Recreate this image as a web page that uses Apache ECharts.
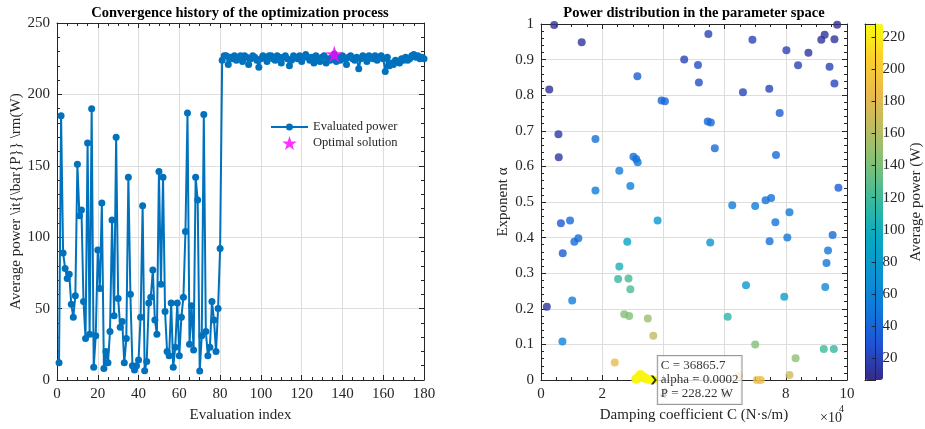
<!DOCTYPE html>
<html>
<head>
<meta charset="utf-8">
<script src="https://cdn.jsdelivr.net/npm/echarts@6/dist/echarts.min.js"></script>
<style>
html, body { margin: 0; padding: 0; background: #fff; }
#chart { width: 925px; height: 429px; }
</style>
</head>
<body>
<div id="chart"></div>
<script>
// evaluated average power per evaluation (index 1..180)
const powerHistory = [
  12, 185, 89, 78, 71, 74, 53, 44, 59, 151,
  115, 119, 55, 29, 166, 32, 190, 9, 31, 91,
  64, 124, 8, 20, 12, 34, 112, 45, 170, 57,
  37, 41, 12, 29, 142, 60, 10, 7, 10, 14,
  44, 122, 6.5, 13, 54, 58, 77, 42, 32, 146,
  67, 142, 48, 20, 17, 54, 9, 23, 54, 17,
  44, 58, 104, 187, 25, 52, 21, 142, 126, 6.3,
  31, 186, 34, 17, 23, 55, 42, 20, 50, 92,
  224, 227, 227, 221, 226, 225, 227, 224, 226, 227,
  223, 227, 226, 221, 225, 227, 226, 224, 219, 225,
  227, 226, 223, 227, 227, 225, 224, 227, 226, 222,
  226, 227, 225, 220, 224, 227, 226, 225, 227, 223,
  226, 228, 226, 224, 226, 222, 227, 225, 223, 226,
  227, 222, 225, 224, 226, 228.22, 223, 226, 224, 227,
  225, 221, 226, 227, 225, 224, 226, 218, 225, 227,
  226, 223, 227, 226, 225, 227, 224, 226, 227, 225,
  216, 226, 220, 222, 221, 224, 223, 222, 225, 224,
  226, 224, 225, 227, 228, 226, 227, 225, 226, 225
];
const optIndex = 136;
const optPower = 228.22;
const bestC = 36865.7;
const bestAlpha = 0.0002;

// sampled parameters away from the optimum (C in 1e4 N*s/m)
const sampleC = [
  0.43, 1.33, 0.27, 0.57, 0.58, 1.78, 3.15, 3.94, 4.05, 4.68,
  5.13, 5.16, 5.47, 5.45, 5.55, 2.56, 1.78, 2.92, 3.02, 3.11,
  3.16, 9.68, 6.91, 9.27, 9.16, 9.59, 8.02, 8.74, 8.40, 9.43,
  9.59, 6.60, 7.46, 7.80, 5.68, 7.68, 9.72, 6.25, 7.00, 7.34,
  7.52, 8.12, 7.66, 9.53, 5.53, 7.47, 8.05, 9.38, 9.33, 6.70,
  9.29, 7.95, 6.10, 7.00, 9.24, 9.57, 8.32, 8.12, 6.46, 7.05,
  7.18, 0.19, 0.65, 0.95, 0.71, 1.09, 1.22, 1.02, 0.70, 3.81,
  2.82, 2.56, 2.52, 2.86, 2.92, 2.72, 2.88, 3.49, 3.67, 2.41
];
const sampleAlpha = [
  0.997, 0.949, 0.816, 0.690, 0.626, 0.677, 0.853, 0.785, 0.783, 0.900,
  0.885, 0.836, 0.972, 0.726, 0.723, 0.588, 0.532, 0.545, 0.627, 0.621,
  0.612, 0.998, 0.956, 0.970, 0.956, 0.957, 0.926, 0.919, 0.884, 0.880,
  0.833, 0.808, 0.818, 0.750, 0.651, 0.632, 0.540, 0.491, 0.489, 0.505,
  0.511, 0.471, 0.443, 0.407, 0.386, 0.390, 0.400, 0.364, 0.329, 0.266,
  0.261, 0.234, 0.178, 0.100, 0.087, 0.087, 0.061, 0.014, 0.012, 0.000,
  0.000, 0.206, 0.440, 0.448, 0.356, 0.388, 0.398, 0.223, 0.108, 0.448,
  0.388, 0.319, 0.284, 0.285, 0.255, 0.185, 0.180, 0.173, 0.124, 0.049
];
const samplePower = [
  9, 12, 10, 15, 14, 45, 35, 40, 41, 20,
  25, 25, 20, 40, 41, 55, 54, 57, 44, 44,
  50, 8, 20, 12, 12, 12, 20, 13, 20, 20,
  21, 20, 21, 33, 42, 42, 33, 53, 53, 45,
  45, 50, 48, 42, 74, 45, 50, 50, 48, 78,
  64, 85, 112, 142, 119, 115, 146, 170, 187, 190,
  186, 12, 32, 42, 34, 44, 44, 55, 59, 77,
  91, 104, 115, 122, 124, 142, 143, 151, 166, 185
];

// evaluations gathered round the optimum
const clusterC = [
  3.08, 3.10, 3.12, 3.14, 3.16, 3.18, 3.20, 3.22, 3.24, 3.25,
  3.26, 3.28, 3.30, 3.32, 3.34, 3.36, 3.38, 3.40, 3.42, 3.44,
  3.46, 3.48, 3.50, 3.52, 3.54, 3.56, 3.58, 3.60, 3.62, 3.64, 3.66
];
const clusterAlpha = [
  0.002, 0.004, 0.001, 0.006, 0.003, 0.009, 0.012, 0.014, 0.016, 0.017,
  0.015, 0.013, 0.010, 0.008, 0.011, 0.006, 0.004, 0.007, 0.003, 0.005,
  0.002, 0.004, 0.001, 0.003, 0.002, 0.001, 0.003, 0.001, 0.002, 0.001, 0.001
];
const clusterPower = [
  224, 225, 223, 226, 227, 224, 226, 227, 225, 226,
  227, 224, 226, 227, 225, 226, 223, 227, 226, 225,
  227, 226, 224, 227, 226, 225, 227, 226, 227, 226, 227
];

const colorbarTicks = [20, 40, 60, 80, 100, 120, 140, 160, 180, 200, 220];
const powerMin = 6.3;
const powerMax = 228.22;
const parula = ['#352a87', '#2053d4', '#1079da', '#0c93d2', '#07a9c2', '#38b99e',
  '#7cbf7b', '#b7bd64', '#e9b94e', '#fcce2e', '#f9fb0e'];

const font = 'Liberation Serif';
const ink = '#262626';
const gridColor = '#dedede';
const starPath = 'path://M50,0 L61.8,35.1 L97.6,35.1 L68.8,56.7 L79.4,91 L50,70 L20.6,91 L31.2,56.7 L2.4,35.1 L38.2,35.1 Z';
const chevronPath = 'path://M0,0 L4,0 L10,5 L4,10 L0,10 L6,5 Z';
// legend icon: line with a small circle marker, padded to the 37x14 legend box
const lineMarkerIcon = 'path://M0,0 L0.01,0 L0,0.01 Z M37,14 L36.99,14 L37,13.99 Z M0,6.1 L37,6.1 L37,7.9 L0,7.9 Z M22,7 A3.5,3.5 0 1 1 22,6.99 Z';

const chart = echarts.init(document.getElementById('chart'));

function axis(o) {
  return Object.assign({
    type: 'value',
    axisLine: { show: true, onZero: false, lineStyle: { color: ink, width: 1 } },
    axisTick: { show: true, inside: true, length: 5, lineStyle: { color: ink } },
    minorTick: { show: true, length: 3, lineStyle: { color: ink } },
    axisLabel: { color: ink, fontFamily: font, fontSize: 15, margin: 7 },
    splitLine: { show: true, lineStyle: { color: gridColor } },
    nameTextStyle: { color: ink, fontFamily: font, fontSize: 15 }
  }, o);
}
const noLabel = { show: false };
const noSplit = { show: false };
const minor = n => ({ show: true, splitNumber: n, length: 3, lineStyle: { color: ink } });
// plain frame line for the colour bar box
const frame = (o) => Object.assign({
  type: 'value', gridIndex: 2, min: 0, max: 1, z: 10,
  axisLine: { show: true, onZero: false, lineStyle: { color: ink, width: 1 } },
  axisTick: { show: false }, axisLabel: { show: false }, splitLine: { show: false }
}, o);

const samples = sampleC.map((c, i) => [c, sampleAlpha[i], samplePower[i]]);
const cluster = clusterC.map((c, i) => [c, clusterAlpha[i], clusterPower[i]]);
cluster.push([bestC / 1e4, bestAlpha, optPower]);

const titleStyle = { fontFamily: font, fontWeight: 'bold', fontSize: 14.5, color: '#000' };

chart.setOption({
  animation: false,
  backgroundColor: '#fff',
  title: [
    { text: 'Convergence history of the optimization process', left: 240, top: 6, padding: 0, textAlign: 'center', textStyle: titleStyle },
    { text: 'Power distribution in the parameter space', left: 694, top: 6, padding: 0, textAlign: 'center', textStyle: titleStyle }
  ],
  grid: [
    { left: 57, top: 23, width: 367, height: 357 },
    { left: 541, top: 24, width: 306, height: 356 },
    { left: 865, top: 24, width: 18, height: 356 }
  ],
  xAxis: [
    axis({ gridIndex: 0, min: 0, max: 180, interval: 20, position: 'bottom', minorTick: minor(4),
      name: 'Evaluation index', nameLocation: 'middle', nameGap: 28 }),
    axis({ gridIndex: 0, min: 0, max: 180, interval: 20, position: 'top', minorTick: minor(4),
      axisLabel: noLabel, splitLine: noSplit }),
    axis({ gridIndex: 1, min: 0, max: 10, interval: 2, position: 'bottom', minorTick: minor(4),
      name: 'Damping coefficient C (N\u00b7s/m)', nameLocation: 'middle', nameGap: 28 }),
    axis({ gridIndex: 1, min: 0, max: 10, interval: 2, position: 'top', minorTick: minor(4),
      axisLabel: noLabel, splitLine: noSplit }),
    frame({ position: 'bottom' }),
    frame({ position: 'top' })
  ],
  yAxis: [
    axis({ gridIndex: 0, min: 0, max: 250, interval: 50, position: 'left', minorTick: minor(5),
      name: 'Average power \\it{\\bar{P}} \\rm(W)', nameLocation: 'middle', nameGap: 33 }),
    axis({ gridIndex: 0, min: 0, max: 250, interval: 50, position: 'right', minorTick: minor(5),
      axisLabel: noLabel, splitLine: noSplit }),
    axis({ gridIndex: 1, min: 0, max: 1, interval: 0.1, position: 'left', minorTick: minor(5),
      name: 'Exponent \u03b1', nameLocation: 'middle', nameGap: 30 }),
    axis({ gridIndex: 1, min: 0, max: 1, interval: 0.1, position: 'right', minorTick: minor(5),
      axisLabel: noLabel, splitLine: noSplit }),
    axis({ gridIndex: 2, min: powerMin, max: powerMax, position: 'right', z: 10,
      axisTick: { show: true, inside: true, length: 4, customValues: colorbarTicks, lineStyle: { color: ink } },
      minorTick: { show: false },
      axisLabel: { color: ink, fontFamily: font, fontSize: 15, margin: 7, customValues: colorbarTicks },
      splitLine: noSplit,
      name: 'Average power (W)', nameLocation: 'middle', nameGap: 32, nameRotate: 90 }),
    frame({ position: 'left' })
  ],
  visualMap: {
    type: 'continuous', min: powerMin, max: powerMax, dimension: 2, seriesIndex: [2, 3],
    inRange: { color: parula }, calculable: false, left: 865, top: 24, padding: 0, z: 1,
    itemWidth: 18, itemHeight: 356, text: null, showLabel: false, hoverLink: false
  },
  legend: {
    data: [{ name: 'Evaluated power', icon: lineMarkerIcon }, { name: 'Optimal solution' }],
    orient: 'vertical', left: 271, top: 120,
    itemWidth: 37, itemHeight: 14, itemGap: 2, padding: 0,
    textStyle: { fontFamily: font, fontSize: 12.5, color: ink }
  },
  graphic: [
    { type: 'text', left: 820, top: 411, style: { text: '\u00d710', font: '14px "Liberation Serif"', fill: ink } },
    { type: 'text', left: 839, top: 404, style: { text: '4', font: '10px "Liberation Serif"', fill: ink } }
  ],
  series: [
    { name: 'Evaluated power', type: 'line', xAxisIndex: 0, yAxisIndex: 0,
      data: powerHistory.map((v, i) => [i + 1, v]),
      symbol: 'circle', symbolSize: 7, showAllSymbol: true,
      lineStyle: { color: '#0072BD', width: 2 }, itemStyle: { color: '#0072BD' } },
    { name: 'Optimal solution', type: 'scatter', xAxisIndex: 0, yAxisIndex: 0,
      data: [[optIndex, optPower]], symbol: starPath, symbolSize: 17,
      itemStyle: { color: '#ff00ff' }, z: 4 },
    { type: 'scatter', xAxisIndex: 2, yAxisIndex: 2, data: samples, symbolSize: 8, clip: false },
    { type: 'scatter', xAxisIndex: 2, yAxisIndex: 2, data: cluster, symbolSize: 8, clip: false },
    { type: 'scatter', xAxisIndex: 2, yAxisIndex: 2, data: [[bestC / 1e4, bestAlpha]], clip: false,
      symbol: chevronPath, symbolSize: [6, 9], itemStyle: { color: '#000' }, z: 5,
      label: { show: true, position: 'right', distance: 1,
        formatter: 'C = ' + bestC + '\nalpha = ' + bestAlpha + '\nP = ' + optPower + ' W',
        fontFamily: font, fontSize: 13, lineHeight: 14, color: '#000',
        backgroundColor: '#fff', borderColor: '#808080', borderWidth: 1, padding: [3, 3, 3, 3], align: 'left' } }
  ]
});
</script>
</body>
</html>
